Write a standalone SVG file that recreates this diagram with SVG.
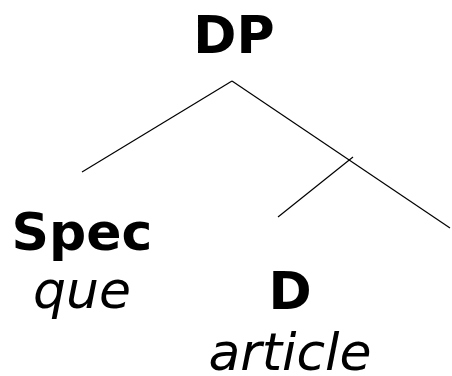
<svg xmlns="http://www.w3.org/2000/svg" width="452" height="376" viewBox="0 0 452 376">
<style>
.b{font-family:"DejaVu Sans",Verdana,sans-serif;font-weight:bold;font-size:52px;fill:#000;text-anchor:middle}
.i{font-family:"DejaVu Sans",Verdana,sans-serif;font-style:italic;font-size:52px;fill:#000;text-anchor:middle}
.e{stroke:#000;stroke-width:1.2;fill:none}
</style>
<rect width="452" height="376" fill="#fff"/>
<g id="connectors">
<line class="e" x1="232" y1="81" x2="82" y2="172"/>
<line class="e" x1="232" y1="81" x2="450" y2="228"/>
<line class="e" x1="353" y1="157" x2="278" y2="217"/>
</g>
<g id="DP"><text class="b" x="234" y="53">DP</text></g>
<g id="Spec"><text class="b" x="82" y="250">Spec</text><text class="i" x="82" y="308">que</text></g>
<g id="D"><text class="b" x="290" y="309">D</text><text class="i" x="290" y="370">article</text></g>
</svg>
